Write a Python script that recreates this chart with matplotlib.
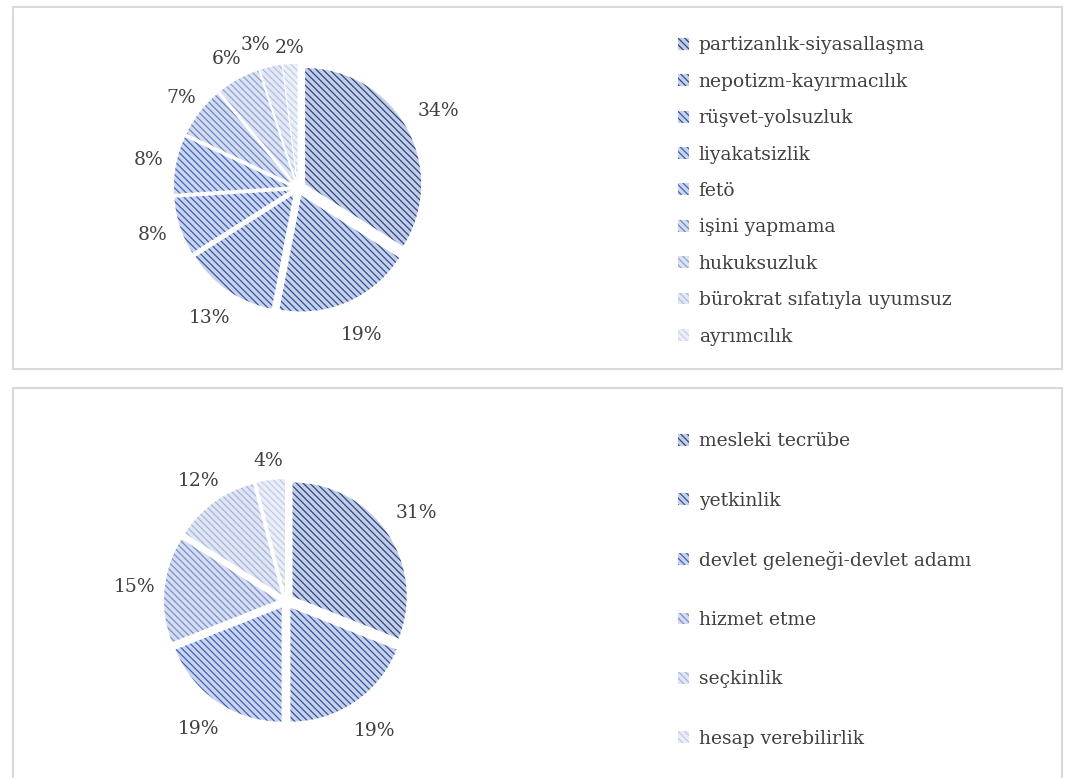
import matplotlib.pyplot as plt
from matplotlib.patches import Rectangle

plt.rcParams['font.family'] = ['DejaVu Serif']
plt.rcParams['hatch.linewidth'] = 0.9

# top chart: problems
top_labels = ['partizanlık-siyasallaşma', 'nepotizm-kayırmacılık', 'rüşvet-yolsuzluk',
              'liyakatsizlik', 'fetö', 'işini yapmama', 'hukuksuzluk',
              'bürokrat sıfatıyla uyumsuz', 'ayrımcılık']
top_values = [34, 19, 13, 8, 8, 7, 6, 3, 2]

# bottom chart: qualities
bot_labels = ['mesleki tecrübe', 'yetkinlik', 'devlet geleneği-devlet adamı',
              'hizmet etme', 'seçkinlik', 'hesap verebilirlik']
bot_values = [31, 19, 19, 15, 12, 4]

top_line = ['#2b4784', '#2f4f95', '#3456a3', '#3a5fb3', '#4268bd',
            '#6a86c8', '#8ea3d4', '#aebde2', '#c4cfea']
top_face = ['#c3cde6', '#c6d0ea', '#c8d2ec', '#cad4ee', '#cdd6ef',
            '#d5dcf0', '#dde3f3', '#e5e9f5', '#eceff8']
bot_line = ['#2b4784', '#3254a0', '#3e63b8', '#7990cc', '#a6b6de', '#c1cce9']
bot_face = ['#c3cde6', '#c7d1eb', '#cbd4ee', '#d6ddf1', '#e1e6f4', '#eaeef7']

# label distance from the pie centre, in radii (Excel "best fit" look)
top_lab_r = [1.38, 1.38, 1.36, 1.32, 1.31, 1.27, 1.27, 1.26, 1.21]
bot_lab_r = [1.38, 1.38, 1.36, 1.33, 1.30, 1.24]

W, H = 1067, 778
fig = plt.figure(figsize=(W / 100, H / 100), dpi=100)

# chart frames
for (x0, y0, x1, y1) in [(13, 7, 1062, 369), (13, 388, 1062, 790)]:
    fig.add_artist(Rectangle((x0 / W, 1 - y1 / H), (x1 - x0) / W, (y1 - y0) / H,
                             transform=fig.transFigure, fill=False,
                             edgecolor='#d9d9d9', linewidth=1.5))


def draw_pie(values, labels, lines, faces, lab_r, cx, cy, r, leg_x, leg_y, spacing):
    lim = 1.45
    size = 2 * lim * r
    ax = fig.add_axes([(cx - size / 2) / W, 1 - (cy + size / 2) / H, size / W, size / H])
    wedges, texts, autotexts = ax.pie(values, startangle=90, counterclock=False,
                                      explode=[0.07] * len(values),
                                      autopct='%.0f%%', pctdistance=1.2,
                                      wedgeprops=dict(linewidth=0))
    for w, lc, fc in zip(wedges, lines, faces):
        w.set_facecolor(fc)
        w.set_edgecolor(lc)
        w.set_linewidth(0)
        w.set_hatch('\\' * 5)
    for w, t, lr in zip(wedges, autotexts, lab_r):
        ang = np.deg2rad((w.theta1 + w.theta2) / 2)
        t.set_position((lr * np.cos(ang), lr * np.sin(ang)))
        t.set_fontsize(13.5)
        t.set_color('#404040')
    ax.set_xlim(-lim, lim)
    ax.set_ylim(-lim, lim)
    ax.set_aspect('equal')
    ax.axis('off')
    leg = fig.legend(wedges, labels, loc='center left',
                     bbox_to_anchor=(leg_x / W, 1 - leg_y / H),
                     frameon=False, fontsize=13.5, handlelength=0.6, handleheight=0.6,
                     handletextpad=0.5, labelspacing=spacing, borderpad=0, borderaxespad=0)
    for t in leg.get_texts():
        t.set_color('#404040')
    return autotexts


import numpy as np

top_txt = draw_pie(top_values, top_labels, top_line, top_face, top_lab_r,
                   298, 188, 116, 678, 191, 0.98)
# keep the two smallest labels apart, as in the original
x, y = top_txt[7].get_position()
top_txt[7].set_position((x - 0.09, y))
draw_pie(bot_values, bot_labels, bot_line, bot_face, bot_lab_r,
         286, 601, 114, 678, 590, 2.2)

fig.savefig('out.png', dpi=100)
